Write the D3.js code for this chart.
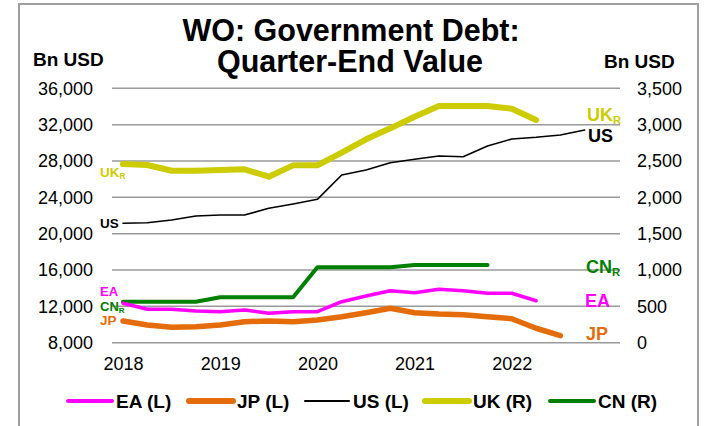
<!DOCTYPE html>
<html>
<head>
<meta charset="utf-8">
<script src="https://cdn.jsdelivr.net/npm/d3@7"></script>
<style>
  body { margin: 0; background: #fff; }
  svg { font-family: "Liberation Sans", Arial, sans-serif; }
</style>
</head>
<body>
<div id="chart"></div>
<script>
// Quarter-end dates (as fractional years) for each observation
const quarters = [2018.00, 2018.25, 2018.50, 2018.75, 2019.00, 2019.25, 2019.50, 2019.75,
                  2020.00, 2020.25, 2020.50, 2020.75, 2021.00, 2021.25, 2021.50, 2021.75,
                  2022.00, 2022.25, 2022.50, 2022.75];

// Left axis series (Bn USD)
const eaValues = [12340, 11680, 11680, 11490, 11410, 11600, 11240, 11410, 11410, 12510,
                  13140, 13720, 13500, 13880, 13720, 13440, 13440, 12620];
const jpValues = [10390, 9950, 9700, 9760, 9950, 10310, 10390, 10310, 10500, 10860,
                  11300, 11790, 11300, 11160, 11080, 10860, 10640, 9590, 8770];
const usValues = [21140, 21210, 21500, 21940, 22060, 22060, 22790, 23270, 23780, 26460,
                  27010, 27810, 28190, 28550, 28470, 29650, 30420, 30610, 30860, 31410];

// Right axis series (Bn USD)
const ukValues = [2458, 2445, 2366, 2366, 2376, 2385, 2284, 2440, 2440, 2614,
                  2798, 2949, 3109, 3256, 3256, 3256, 3219, 3064];
const cnValues = [564, 564, 564, 564, 625, 625, 625, 625, 1037, 1037,
                  1037, 1037, 1069, 1069, 1069, 1069];

const leftTicks = [8000, 12000, 16000, 20000, 24000, 28000, 32000, 36000];
const rightTicks = [0, 500, 1000, 1500, 2000, 2500, 3000, 3500];
const yearTicks = [2018, 2019, 2020, 2021, 2022];

const width = 706, height = 426;
const plotLeft = 112, plotRight = 620, plotTop = 88.3, plotBottom = 342.7;

const svg = d3.select('#chart')
    .append('svg')
    .attr('width', width)
    .attr('height', height);

svg.append('rect')
    .attr('x', 0).attr('y', 0)
    .attr('width', width).attr('height', height)
    .attr('fill', '#fff');

// outer frame
svg.append('rect')
    .attr('x', 19).attr('y', 4)
    .attr('width', 679).attr('height', 426)
    .attr('fill', 'none')
    .attr('stroke', '#a0a0a0')
    .attr('stroke-width', 2);

const x = d3.scaleLinear().domain([2018, 2022.75]).range([123, 584.7]);
const yL = d3.scaleLinear().domain([8000, 36000]).range([plotBottom, plotTop]);
const yR = d3.scaleLinear().domain([0, 3500]).range([plotBottom, plotTop]);

// gridlines
svg.append('g')
    .selectAll('line')
    .data(leftTicks)
    .join('line')
    .attr('x1', plotLeft).attr('x2', plotRight)
    .attr('y1', d => yL(d)).attr('y2', d => yL(d))
    .attr('stroke', '#9a9a9a')
    .attr('stroke-width', 1.5);

// axes
function styleAxis(g) {
    g.select('.domain').remove();
    g.selectAll('.tick line').remove();
    g.selectAll('text')
        .attr('font-size', 18)
        .attr('fill', '#000')
        .attr('font-family', '"Liberation Sans", Arial, sans-serif');
}

svg.append('g')
    .attr('transform', `translate(${plotLeft},0)`)
    .call(d3.axisLeft(yL).tickValues(leftTicks).tickFormat(d3.format(',')).tickSize(0).tickPadding(19))
    .call(styleAxis);

svg.append('g')
    .attr('transform', `translate(${plotRight},0)`)
    .call(d3.axisRight(yR).tickValues(rightTicks).tickFormat(d3.format(',')).tickSize(0).tickPadding(17))
    .call(styleAxis);

svg.append('g')
    .attr('transform', `translate(0,${plotBottom})`)
    .call(d3.axisBottom(x).tickValues(yearTicks).tickFormat(d3.format('d')).tickSize(0).tickPadding(14.5))
    .call(styleAxis);

// axis unit labels
svg.append('text')
    .attr('x', 33).attr('y', 66)
    .attr('font-size', 19).attr('font-weight', 'bold')
    .text('Bn USD');
svg.append('text')
    .attr('x', 604).attr('y', 68)
    .attr('font-size', 19).attr('font-weight', 'bold')
    .text('Bn USD');

// title
const title = svg.append('text')
    .attr('text-anchor', 'middle')
    .attr('font-size', 30.5).attr('font-weight', 'bold');
title.append('tspan').attr('x', 351).attr('y', 41).text('WO: Government Debt:');
title.append('tspan').attr('x', 350).attr('y', 72).text('Quarter-End Value');

// series
const series = [
    { name: 'UK', values: ukValues, y: yR, color: '#cccc00', w: 6 },
    { name: 'JP', values: jpValues, y: yL, color: '#e46c0a', w: 5.5 },
    { name: 'CN', values: cnValues, y: yR, color: '#008000', w: 4 },
    { name: 'EA', values: eaValues, y: yL, color: '#ff00ff', w: 3.5 },
    { name: 'US', values: usValues, y: yL, color: '#000000', w: 1.6 }
];

series.forEach(s => {
    const line = d3.line()
        .x((d, i) => x(quarters[i]))
        .y(d => s.y(d));
    svg.append('path')
        .datum(s.values)
        .attr('d', line)
        .attr('fill', 'none')
        .attr('stroke', s.color)
        .attr('stroke-width', s.w)
        .attr('stroke-linejoin', 'round')
        .attr('stroke-linecap', 'round');
});

// inline series labels
function label(xp, yp, txt, sub, color, size) {
    const t = svg.append('text')
        .attr('x', xp).attr('y', yp)
        .attr('font-size', size).attr('font-weight', 'bold')
        .attr('fill', color);
    t.append('tspan').text(txt);
    if (sub) {
        t.append('tspan')
            .attr('font-size', size * 0.62)
            .attr('dy', size * 0.18)
            .text(sub);
    }
}

label(100, 177, 'UK', 'R', '#cccc00', 13.5);
label(100, 228, 'US', null, '#000', 13.5);
label(100, 296, 'EA', null, '#ff00ff', 13);
label(100, 310.5, 'CN', 'R', '#008000', 13);
label(100, 325, 'JP', null, '#e46c0a', 13.5);

label(587, 121, 'UK', 'R', '#cccc00', 18);
label(588, 142, 'US', null, '#000', 18);
label(586, 273, 'CN', 'R', '#008000', 18);
label(585, 307, 'EA', null, '#ff00ff', 18);
label(586, 340, 'JP', null, '#e46c0a', 18);

// legend
const legendItems = [
    { label: 'EA (L)', color: '#ff00ff', w: 4, x: 68 },
    { label: 'JP (L)', color: '#e46c0a', w: 6, x: 189 },
    { label: 'US (L)', color: '#000000', w: 2, x: 305 },
    { label: 'UK (R)', color: '#cccc00', w: 6, x: 425 },
    { label: 'CN (R)', color: '#008000', w: 4, x: 550 }
];

const ly = 401;
legendItems.forEach(item => {
    svg.append('line')
        .attr('x1', item.x).attr('x2', item.x + 44)
        .attr('y1', ly).attr('y2', ly)
        .attr('stroke', item.color)
        .attr('stroke-width', item.w)
        .attr('stroke-linecap', 'round');
    svg.append('text')
        .attr('x', item.x + 48).attr('y', ly + 7)
        .attr('font-size', 19).attr('font-weight', 'bold')
        .text(item.label);
});
</script>
</body>
</html>
